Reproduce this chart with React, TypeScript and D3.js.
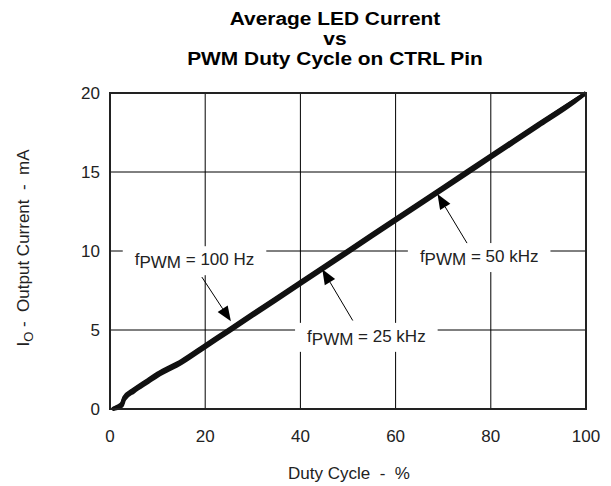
import { useEffect, useRef } from 'react'
import * as d3 from 'd3'

// Duty cycle (%) vs average LED current (mA)
const duty100Hz = [0.5, 1.5, 2.5, 3, 5, 8, 10, 15, 20, 25, 30, 40, 50, 60, 70, 80, 90, 100]
const current100Hz = [0, 0.05, 0.3, 0.7, 1.2, 1.8, 2.2, 3.0, 4.0, 5.0, 6.0, 8.0, 10.0, 12.0, 14.0, 16.0, 18.0, 20.0]

const duty25kHz = [0.5, 1.5, 2.5, 3, 5, 8, 10, 15, 20, 25, 30, 40, 50, 60, 70, 80, 90, 97, 100]
const current25kHz = [0, 0.1, 0.2, 0.6, 1.1, 1.7, 2.1, 2.9, 3.9, 4.9, 5.9, 7.9, 9.9, 11.9, 13.9, 15.9, 17.9, 19.3, 20.0]

const duty50kHz = [0.5, 1.5, 2.5, 3, 5, 8, 10, 15, 20, 25, 30, 40, 50, 60, 70, 80, 90, 100]
const current50kHz = [0, 0.15, 0.35, 0.75, 1.25, 1.85, 2.25, 3.05, 4.05, 5.05, 6.05, 8.05, 10.05, 12.05, 14.05, 16.05, 18.05, 20.0]

const xTicks = [0, 20, 40, 60, 80, 100]
const yTicks = [0, 5, 10, 15, 20]

const titleLines = ['Average LED Current', 'vs', 'PWM Duty Cycle on CTRL Pin']

const FONT = 'Arial, "Liberation Sans", Helvetica, sans-serif'

export default function App() {
  const svgRef = useRef<SVGSVGElement>(null)

  useEffect(() => {
    if (!svgRef.current) return
    document.body.style.margin = '0'
    const svg = d3.select(svgRef.current)
    svg.selectAll('*').remove()

    const width = 611
    const height = 486
    const margin = { top: 93, right: 25, bottom: 77, left: 110 }

    const x = d3.scaleLinear().domain([0, 100]).range([margin.left, width - margin.right])
    const y = d3.scaleLinear().domain([0, 20]).range([height - margin.bottom, margin.top])

    svg.append('rect').attr('width', width).attr('height', height).attr('fill', '#fff')

    // Title (the source art is slightly stretched horizontally)
    const titleG = svg.append('g').attr('transform', 'translate(335, 0) scale(1.1, 1)')
    titleLines.forEach((line, i) => {
      titleG.append('text')
        .attr('x', 0)
        .attr('y', 25.5 + i * 20)
        .attr('text-anchor', 'middle')
        .style('font-family', FONT)
        .style('font-weight', 'bold')
        .style('font-size', '19px')
        .style('fill', '#000')
        .text(line)
    })

    // Grid lines
    const grid = svg.append('g')
    xTicks.slice(1, -1).forEach(t => {
      grid.append('line')
        .attr('x1', x(t)).attr('x2', x(t))
        .attr('y1', y(0)).attr('y2', y(20))
        .attr('stroke', '#000').attr('stroke-width', 1)
    })
    yTicks.slice(1, -1).forEach(t => {
      grid.append('line')
        .attr('x1', x(0)).attr('x2', x(100))
        .attr('y1', y(t)).attr('y2', y(t))
        .attr('stroke', '#000').attr('stroke-width', 1)
    })

    // Curves
    const line = d3.line<[number, number]>()
      .x(d => x(d[0]))
      .y(d => y(d[1]))
      .curve(d3.curveMonotoneX)

    const series: [number[], number[]][] = [
      [duty100Hz, current100Hz],
      [duty25kHz, current25kHz],
      [duty50kHz, current50kHz],
    ]
    series.forEach(([xs, ys]) => {
      const pts = xs.map((d, i) => [d, ys[i]] as [number, number])
      svg.append('path')
        .attr('d', line(pts))
        .attr('fill', 'none')
        .attr('stroke', '#111')
        .attr('stroke-width', 3.8)
        .attr('stroke-linejoin', 'round')
    })

    // Annotations: text anchor, arrow tail and tip in data coordinates
    const annotations = [
      { sub: 'PWM', rest: ' = 100 Hz', tx: 5.2, ty: 9.1, from: [19.3, 8.35], to: [25.4, 5.55] },
      { sub: 'PWM', rest: ' = 25 kHz', tx: 41.4, ty: 4.25, from: [51.0, 5.6], to: [44.6, 8.85] },
      { sub: 'PWM', rest: ' = 50 kHz', tx: 65.1, ty: 9.3, from: [75.0, 10.5], to: [68.8, 13.6] },
    ]

    annotations.forEach(a => {
      const g = svg.append('g')
      const bg = g.append('rect').attr('fill', '#fff')
      const t = g.append('text')
        .attr('x', x(a.tx))
        .attr('y', y(a.ty))
        .style('font-family', FONT)
        .style('font-size', '17px')
        .style('fill', '#222')
      t.append('tspan').text('f')
      t.append('tspan').attr('dy', 3).text(a.sub)
      t.append('tspan').attr('dy', -3).text(a.rest)
      const bb = (t.node() as SVGTextElement).getBBox()
      bg.attr('x', bb.x - 12).attr('y', bb.y - 4)
        .attr('width', bb.width + 24).attr('height', bb.height + 7)

      // arrow
      const x1 = x(a.from[0]), y1 = y(a.from[1])
      const x2 = x(a.to[0]), y2 = y(a.to[1])
      const ang = Math.atan2(y2 - y1, x2 - x1)
      const len = 15, half = 6
      const bx = x2 - len * Math.cos(ang), by = y2 - len * Math.sin(ang)
      g.append('line')
        .attr('x1', x1).attr('y1', y1).attr('x2', bx).attr('y2', by)
        .attr('stroke', '#000').attr('stroke-width', 1)
      g.append('path')
        .attr('d', `M${x2},${y2}L${bx + half * Math.sin(ang)},${by - half * Math.cos(ang)}L${bx - half * Math.sin(ang)},${by + half * Math.cos(ang)}Z`)
        .attr('fill', '#000')
    })

    // Plot border
    svg.append('rect')
      .attr('x', x(0)).attr('y', y(20))
      .attr('width', x(100) - x(0)).attr('height', y(0) - y(20))
      .attr('fill', 'none').attr('stroke', '#222').attr('stroke-width', 2)

    // Tick labels
    svg.append('g').selectAll('text').data(xTicks).join('text')
      .attr('x', d => x(d)).attr('y', y(0) + 33)
      .attr('text-anchor', 'middle')
      .style('font-family', FONT).style('font-size', '17px').style('fill', '#222')
      .text(d => d)

    svg.append('g').selectAll('text').data(yTicks).join('text')
      .attr('x', x(0) - 10).attr('y', d => y(d) + 6)
      .attr('text-anchor', 'end')
      .style('font-family', FONT).style('font-size', '17px').style('fill', '#222')
      .text(d => d)

    // Axis labels
    svg.append('text')
      .attr('x', 349).attr('y', 479)
      .attr('text-anchor', 'middle')
      .style('font-family', FONT).style('font-size', '17px').style('fill', '#222')
      .text('Duty Cycle\u00A0 -\u00A0 %')

    const yl = svg.append('text')
      .attr('transform', `translate(29, 248) rotate(-90)`)
      .attr('text-anchor', 'middle')
      .style('font-family', FONT).style('font-size', '17px').style('fill', '#222')
    yl.append('tspan').text('I')
    yl.append('tspan').attr('dy', 4).style('font-size', '13px').text('O')
    yl.append('tspan').attr('dy', -4).text('\u00A0-\u00A0 Output Current\u00A0 -\u00A0 mA')
  }, [])

  return <svg ref={svgRef} width={611} height={486} style={{ display: 'block' }} />
}
